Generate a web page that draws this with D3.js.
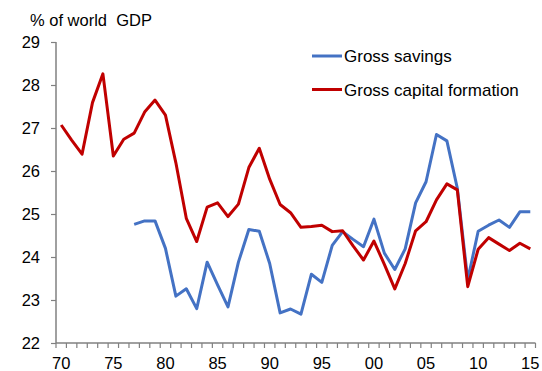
<!DOCTYPE html>
<html><head><meta charset="utf-8">
<script src="https://cdn.jsdelivr.net/npm/d3@7"></script>
<style>body{margin:0;background:#fff}svg{display:block}text{font-family:"Liberation Sans",Arial,sans-serif;fill:#000}</style>
</head><body><svg id="c" width="542" height="371"></svg>
<script>
const years = d3.range(1970, 2016);
const xTickLabels = ["70","75","80","85","90","95","00","05","10","15"];
const yTicks = [22,23,24,25,26,27,28,29];
const savingsStart = 1977;
const grossSavings = [24.76,24.84,24.84,24.20,23.09,23.26,22.80,23.88,23.35,22.84,23.88,24.64,24.60,23.85,22.70,22.79,22.67,23.60,23.41,24.27,24.59,24.41,24.24,24.88,24.09,23.71,24.19,25.26,25.75,26.85,26.70,25.60,23.47,24.60,24.74,24.86,24.69,25.05,25.05];
const capitalFormation = [27.07,26.72,26.39,27.59,28.26,26.35,26.74,26.88,27.37,27.65,27.30,26.19,24.90,24.36,25.16,25.26,24.94,25.23,26.08,26.53,25.81,25.22,25.03,24.69,24.71,24.74,24.59,24.61,24.26,23.93,24.37,23.83,23.26,23.85,24.61,24.82,25.33,25.70,25.56,23.31,24.18,24.45,24.30,24.15,24.32,24.19];
const seriesNames = ["Gross savings","Gross capital formation"];
const colors = ["#4472C4","#C00000"];

const svg = d3.select("#c");
const x = d3.scaleBand().domain(years).range([56, 535.5]);
const y = d3.scaleLinear().domain([22,29]).range([343, 42]);
const axisColor = "#808080";
const fs = 16.5;

// y axis
const ya = svg.append("g").attr("transform","translate(56,0)")
  .call(d3.axisLeft(y).tickValues(yTicks).tickSize(5).tickPadding(11).tickFormat(d3.format("d")));
ya.select(".domain").attr("stroke",axisColor).attr("stroke-width",1.5).attr("d","M0,42V343");
ya.selectAll(".tick line").attr("stroke",axisColor).attr("stroke-width",1.2);
ya.selectAll(".tick text").attr("font-size",fs).attr("font-family","Liberation Sans, Arial").attr("fill","#000");

// x axis: minor ticks at band boundaries
const xa = svg.append("g").attr("transform","translate(0,343)");
xa.append("line").attr("x1",56).attr("x2",535.5).attr("y1",0).attr("y2",0).attr("stroke",axisColor).attr("stroke-width",1.5);
const bounds = years.map(d=>x(d)).concat([x(2015)+x.bandwidth()]);
xa.selectAll("line.t").data(bounds).join("line").attr("class","t")
  .attr("x1",d=>d).attr("x2",d=>d).attr("y1",0).attr("y2",5).attr("stroke",axisColor).attr("stroke-width",1.2);
const labYears = years.filter(d=>d%5===0);
xa.selectAll("text").data(labYears).join("text")
  .attr("x",(d)=>x(d)+x.bandwidth()/2).attr("y",26).attr("text-anchor","middle")
  .attr("font-size",fs).text((d,i)=>xTickLabels[i]);

// unit label
svg.append("text").attr("x",30).attr("y",26).attr("font-size",fs).attr("xml:space","preserve").text("% of world  GDP");

// lines
const line = d3.line().x(d=>x(d[0])+x.bandwidth()/2).y(d=>y(d[1]));
const sData = grossSavings.map((v,i)=>[savingsStart+i,v]);
const cData = capitalFormation.map((v,i)=>[years[i],v]);
svg.append("path").datum(sData).attr("d",line).attr("fill","none").attr("stroke",colors[0]).attr("stroke-width",3).attr("stroke-linejoin","round");
svg.append("path").datum(cData).attr("d",line).attr("fill","none").attr("stroke",colors[1]).attr("stroke-width",3).attr("stroke-linejoin","round");

// legend
const lg = svg.append("g");
seriesNames.forEach((n,i)=>{
  const ly = 56 + i*33.5;
  lg.append("line").attr("x1",312).attr("x2",342).attr("y1",ly).attr("y2",ly).attr("stroke",colors[i]).attr("stroke-width",3);
  lg.append("text").attr("x",344).attr("y",ly+6).attr("font-size",17).text(n);
});
</script></body></html>
